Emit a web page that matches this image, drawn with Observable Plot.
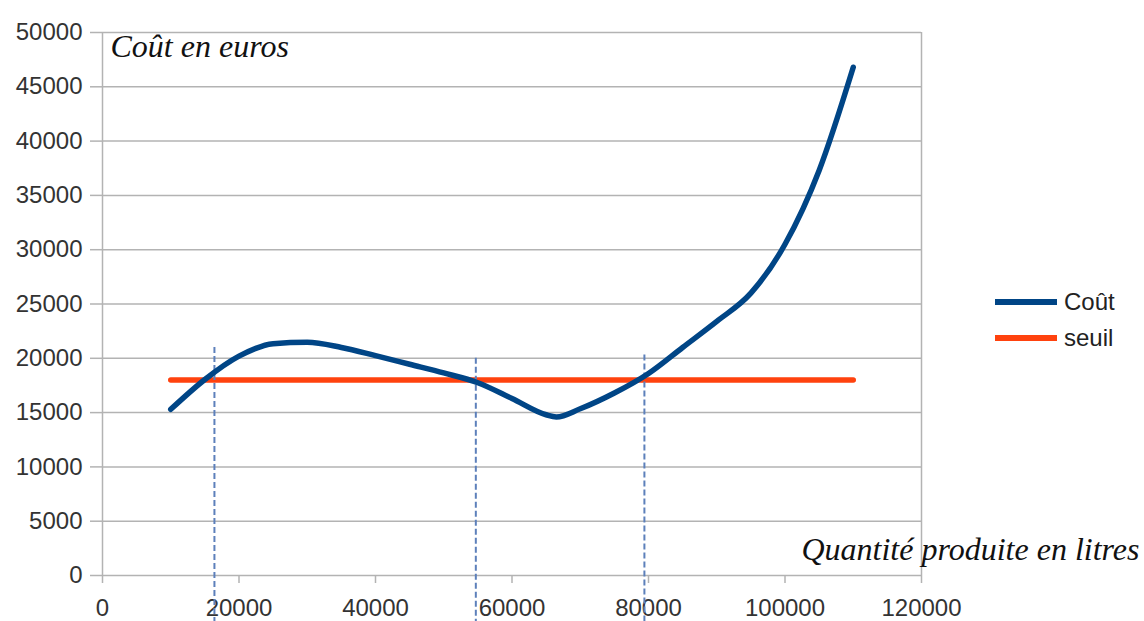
<!DOCTYPE html>
<html><head><meta charset="utf-8">
<script src="https://cdn.jsdelivr.net/npm/d3@7"></script>
<script src="https://cdn.jsdelivr.net/npm/@observablehq/plot@0.6"></script>
<style>
body{margin:0;background:#fff;}
#wrap{position:relative;width:1144px;height:621px;overflow:hidden;}
.leg{position:absolute;left:995px;height:30px;font:24px "Liberation Sans",Arial,sans-serif;color:#222;display:flex;align-items:center;}
.leg .sw{display:inline-block;width:62px;height:6px;margin-right:7px;}
</style></head><body><div id="wrap"></div>
<script>
// Data
const quantite = [10000,15000,20000,25000,30000,35000,40000,45000,50000,55000,60000,65000,66500,70000,75000,80000,85000,90000,95000,100000,105000,110000];
const cout     = [15300,18050,20200,21350,21480,21000,20250,19450,18650,17750,16300,14800,14600,15350,16800,18600,21000,23400,26000,30500,37300,46800];
const seuilQuantite = [10000,110000];
const seuilValeur = [18000,18000];
const reperesX = [16400,54700,79400];
const reperesHaut = [21000,20000,20300];
const reperesBas = [-4300,-4300,-4300];
const ticksX = [0,20000,40000,60000,80000,100000,120000];
const ticksY = [0,5000,10000,15000,20000,25000,30000,35000,40000,45000,50000];
const series = ["Coût","seuil"];
const couleurs = ["#004586","#ff420e"];
const titreY = "Coût en euros";
const titreX = "Quantité produite en litres";

const coutData = quantite.map((q,i)=>({q, v:cout[i]}));
const seuilData = seuilQuantite.map((q,i)=>({q, v:seuilValeur[i]}));
const reperes = reperesX.map((x,i)=>({x, y1:reperesHaut[i], y2:reperesBas[i]}));

const grid = "#b3b3b3";
const chart = Plot.plot({
  width:1144, height:621,
  marginLeft:102, marginRight:223, marginTop:32, marginBottom:46,
  style:{fontFamily:'"Liberation Sans", Arial, sans-serif', background:"#fff"},
  x:{domain:[0,120000]},
  y:{domain:[0,50000]},
  marks:[
    Plot.gridY(ticksY,{stroke:grid, strokeOpacity:1, strokeWidth:1.5}),
    Plot.ruleX([0,120000],{y1:0,y2:50000,stroke:grid,strokeWidth:1.5}),
    Plot.axisY(ticksY,{tickSize:12, tickPadding:8, fontSize:24, stroke:grid, strokeWidth:1.5, color:"#333", label:null, tickFormat:d=>String(d)}),
    Plot.axisX(ticksX,{tickSize:8, tickPadding:15, fontSize:24, stroke:grid, strokeWidth:1.5, color:"#333", label:null, tickFormat:d=>String(d)}),
    Plot.line(seuilData,{x:"q",y:"v",stroke:couleurs[1],strokeWidth:5.5}),
    Plot.ruleX(reperes,{x:"x",y1:"y1",y2:"y2",stroke:"#5d80bb",strokeWidth:2,strokeDasharray:"6,3"}),
    Plot.line(coutData,{x:"q",y:"v",stroke:couleurs[0],strokeWidth:5.5,curve:"monotone-x"}),
    Plot.text([titreY],{frameAnchor:"top-left",dx:8,dy:14,textAnchor:"start",lineAnchor:"middle",fontSize:32,fontStyle:"italic",fontFamily:'"Liberation Serif", serif',fill:"#111"}),
    Plot.text([titreX],{frameAnchor:"bottom-right",dx:218,dy:-26,textAnchor:"end",lineAnchor:"middle",fontSize:32,fontStyle:"italic",fontFamily:'"Liberation Serif", serif',fill:"#111"})
  ]
});
const wrap = document.getElementById("wrap");
wrap.appendChild(chart);
const legTops = [287, 323];
series.forEach((s,i)=>{
  const d = document.createElement("div");
  d.className = "leg";
  d.style.top = legTops[i]+"px";
  d.innerHTML = `<span class="sw" style="background:${couleurs[i]}"></span><span>${s}</span>`;
  wrap.appendChild(d);
});
</script></body></html>
